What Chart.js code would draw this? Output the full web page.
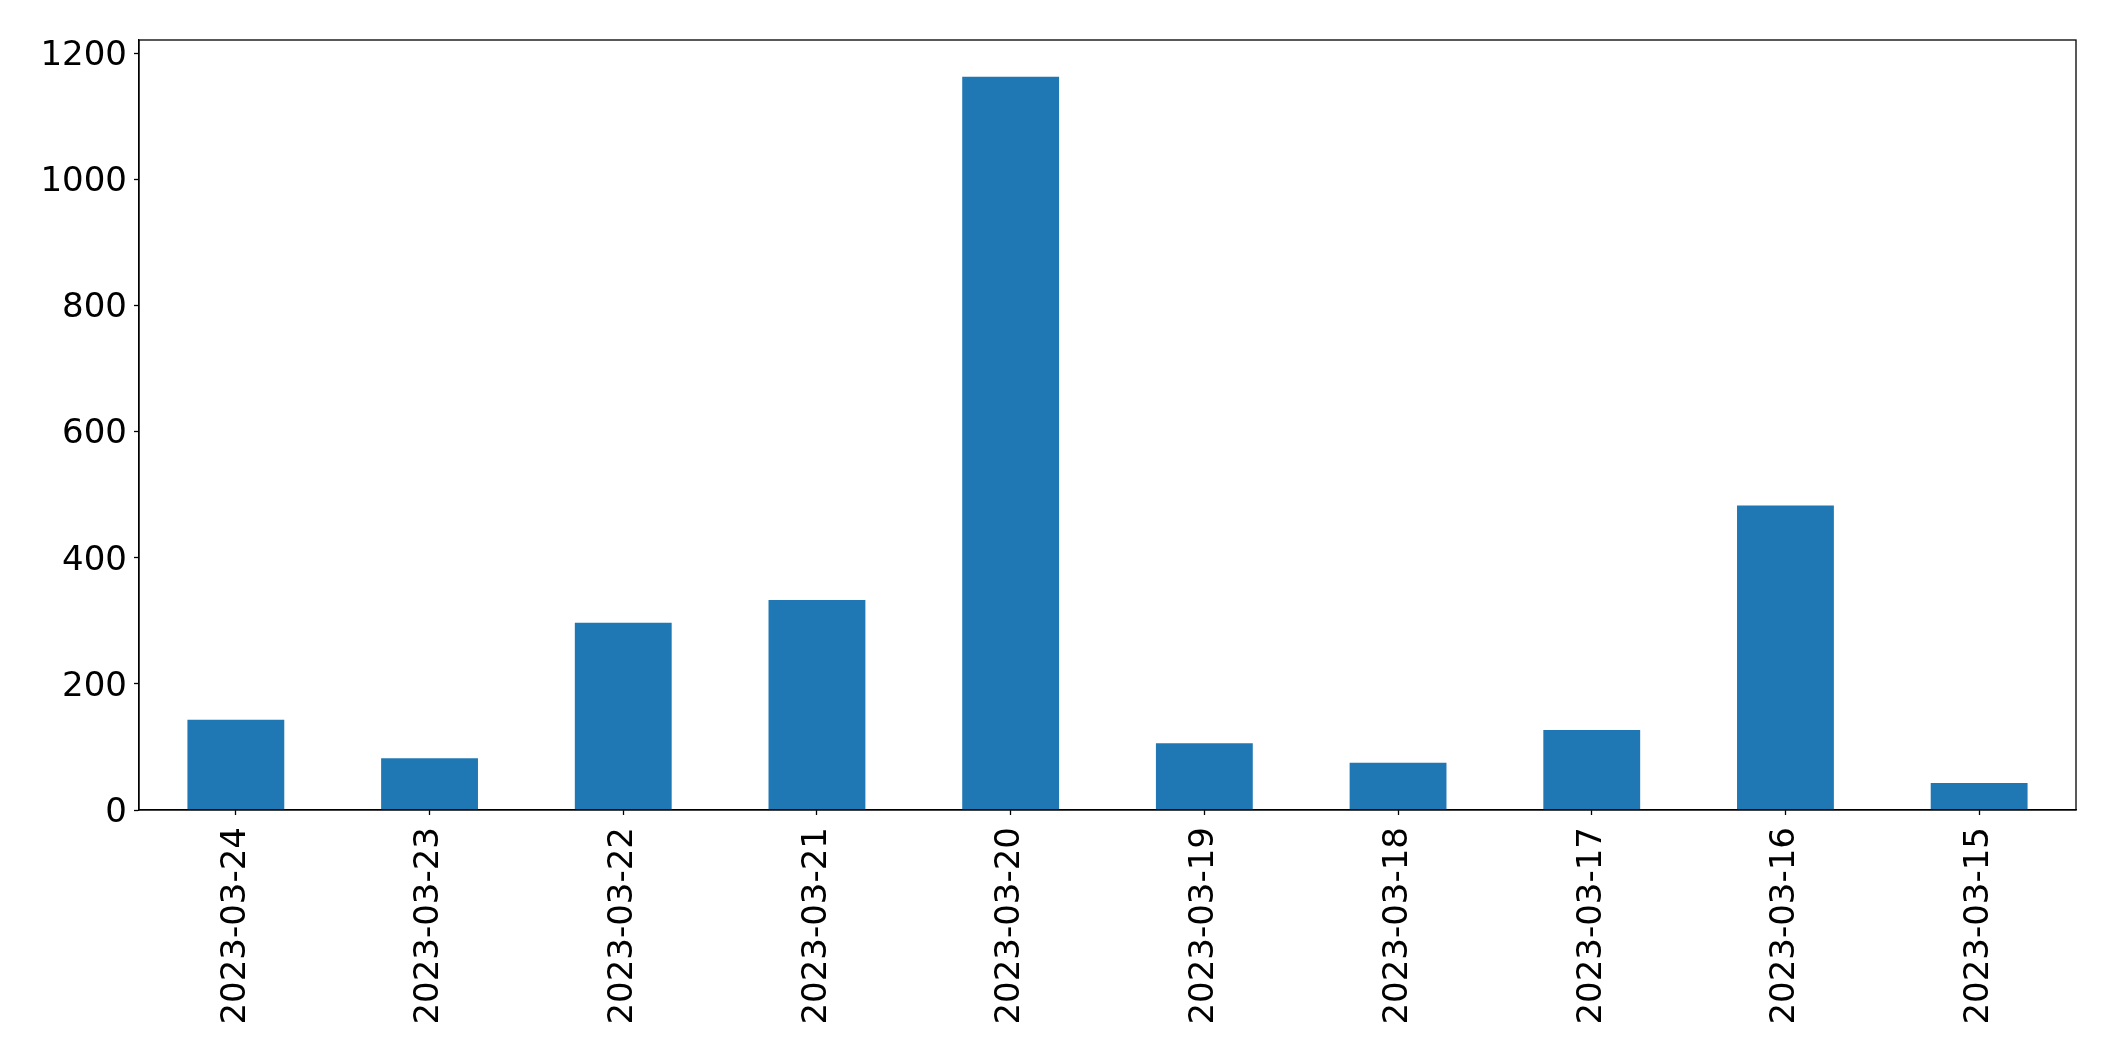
<!DOCTYPE html>
<html>
<head>
<meta charset="utf-8">
<script src="https://cdn.jsdelivr.net/npm/chart.js@4/dist/chart.umd.min.js"></script>
<style>
  html, body { margin: 0; padding: 0; background: #fff; }
  canvas { display: block; }
</style>
</head>
<body>
<canvas id="chart" width="2115" height="1062"></canvas>
<script>
const dates = ['2023-03-24', '2023-03-23', '2023-03-22', '2023-03-21', '2023-03-20',
  '2023-03-19', '2023-03-18', '2023-03-17', '2023-03-16', '2023-03-15'];
const counts = [143, 82, 297, 333, 1163, 106, 75, 127, 483, 43];
const yTicks = [0, 200, 400, 600, 800, 1000, 1200];

// matplotlib-style 5% headroom above the tallest bar
const yMax = Math.max(...counts) * 1.05;

const FONT = { family: 'DejaVu Sans', size: 34 };

// closes the box on the top and right sides, like the default axes frame
const frame = {
  id: 'frame',
  afterDraw(chart) {
    const { ctx, chartArea: a } = chart;
    ctx.save();
    ctx.strokeStyle = '#000';
    ctx.lineWidth = 1.3;
    ctx.strokeRect(a.left, a.top, a.right - a.left, a.bottom - a.top);
    ctx.restore();
  },
};

new Chart(document.getElementById('chart'), {
  type: 'bar',
  data: {
    labels: dates,
    datasets: [{
      data: counts,
      backgroundColor: '#1f77b4',
      borderWidth: 0,
      barPercentage: 0.5,
      categoryPercentage: 1.0,
    }],
  },
  options: {
    responsive: false,
    animation: false,
    devicePixelRatio: 1,
    layout: { padding: { top: 40, right: 39, bottom: 0, left: 0 } },
    plugins: { legend: { display: false }, tooltip: { enabled: false } },
    scales: {
      x: {
        grid: { display: true, offset: false, drawOnChartArea: false, tickLength: 5, color: '#000', tickWidth: 1.3 },
        border: { color: '#000', width: 1.3 },
        ticks: { color: '#000', font: FONT, minRotation: 90, maxRotation: 90, padding: 12, autoSkip: false },
        afterFit(scale) { scale.height = 252; },
      },
      y: {
        min: 0,
        max: yMax,
        grid: { display: true, drawOnChartArea: false, tickLength: 5, color: '#000', tickWidth: 1.3 },
        border: { color: '#000', width: 1.3 },
        ticks: { color: '#000', font: FONT, padding: 7, labelOffset: 3, callback: (v) => String(v) },
        afterBuildTicks(scale) { scale.ticks = yTicks.map((value) => ({ value })); },
        afterFit(scale) { scale.width = 139; },
      },
    },
  },
  plugins: [frame],
});
</script>
</body>
</html>
